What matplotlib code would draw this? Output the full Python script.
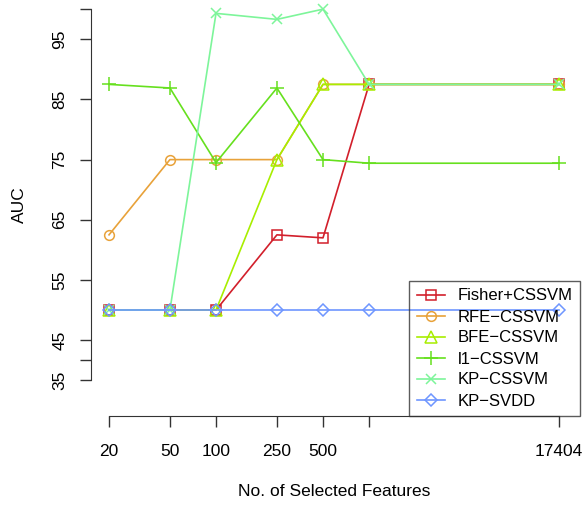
import numpy as np
import matplotlib
matplotlib.use("Agg")
import matplotlib.pyplot as plt

plt.rcParams['font.family'] = ['Liberation Sans', 'DejaVu Sans']

# datos
n_feat = [20, 50, 100, 250, 500, 1000, 17404]
x_labels = ["20", "50", "100", "250", "500", "", "17404"]

fisher = [50, 50, 50, 62.5, 62.0, 87.5, 87.5]
rfe = [62.5, 75, 75, 75, 87.5, 87.5, 87.5]
bfe = [50, 50, 50, 75, 87.5, 87.5, 87.5]
l1 = [87.5, 86.9, 74.5, 86.9, 75.0, 74.4, 74.4]
kp_cssvm = [50, 50, 99.3, 98.3, 100, 87.5, 87.5]
kp_svdd = [50, 50, 50, 50, 50, 50, 50]

y_ticks = [38.4, 41.7, 45, 55, 65, 75, 85, 95, 100]
y_labels = ["35", "", "45", "55", "65", "75", "85", "95", ""]

series = [
    ("Fisher+CSSVM", fisher, "#D21F2B", "s", 6.5),
    ("RFE\u2212CSSVM", rfe, "#E8A23A", "o", 7),
    ("BFE\u2212CSSVM", bfe, "#A8EE00", "^", 8),
    ("l1\u2212CSSVM", l1, "#66E01E", "+", 10),
    ("KP\u2212CSSVM", kp_cssvm, "#7DF59A", "x", 7.5),
    ("KP\u2212SVDD", kp_svdd, "#6E96FF", "D", 6.5),
]

fig = plt.figure(figsize=(5.87, 5.05), dpi=100)
ax = fig.add_axes([91 / 587, 89 / 505, 486 / 587, 422.5 / 505])

for nombre, vals, col, mk, ms in series:
    ax.plot(n_feat, vals, color=col, marker=mk, markersize=ms, mfc="none",
            mec=col, mew=1.1, lw=1.2, label=nombre)

ax.set_xscale("log")
d = np.log10(n_feat[-1] / n_feat[0])
ax.set_xlim(10 ** (np.log10(n_feat[0]) - 0.04 * d), 10 ** (np.log10(n_feat[-1]) + 0.04 * d))
ax.set_ylim(35 - 0.04 * 65, 100 + 0.04 * 65)

ax.set_xticks(n_feat)
ax.set_xticklabels(x_labels)
ax.xaxis.set_minor_locator(matplotlib.ticker.NullLocator())
ax.set_yticks(y_ticks)
ax.set_yticklabels(y_labels, rotation=90, va="center")

for s in ["top", "right"]:
    ax.spines[s].set_visible(False)
ax.spines["left"].set_bounds(y_ticks[0], y_ticks[-1])
ax.spines["bottom"].set_bounds(n_feat[0], n_feat[-1])
ax.spines["left"].set_color("#333333")
ax.spines["bottom"].set_color("#333333")
ax.tick_params(direction="out", length=8, width=1, color="#333333", labelsize=12.5)
ax.tick_params(axis="x", pad=12)
ax.tick_params(axis="y", pad=9)

ax.set_xlabel("No. of Selected Features", fontsize=12.5, labelpad=18)
ax.set_ylabel("AUC", fontsize=12.5, labelpad=18)

leg = ax.legend(loc="lower right", bbox_to_anchor=(580 / 587, 89 / 505),
                bbox_transform=fig.transFigure, fontsize=12, numpoints=1,
                fancybox=False, edgecolor="#333333", facecolor="none",
                borderpad=0.45, handlelength=1.7, handletextpad=0.75,
                labelspacing=0.36, borderaxespad=0)
leg.get_frame().set_linewidth(1.0)

fig.savefig("out.png", dpi=100)
